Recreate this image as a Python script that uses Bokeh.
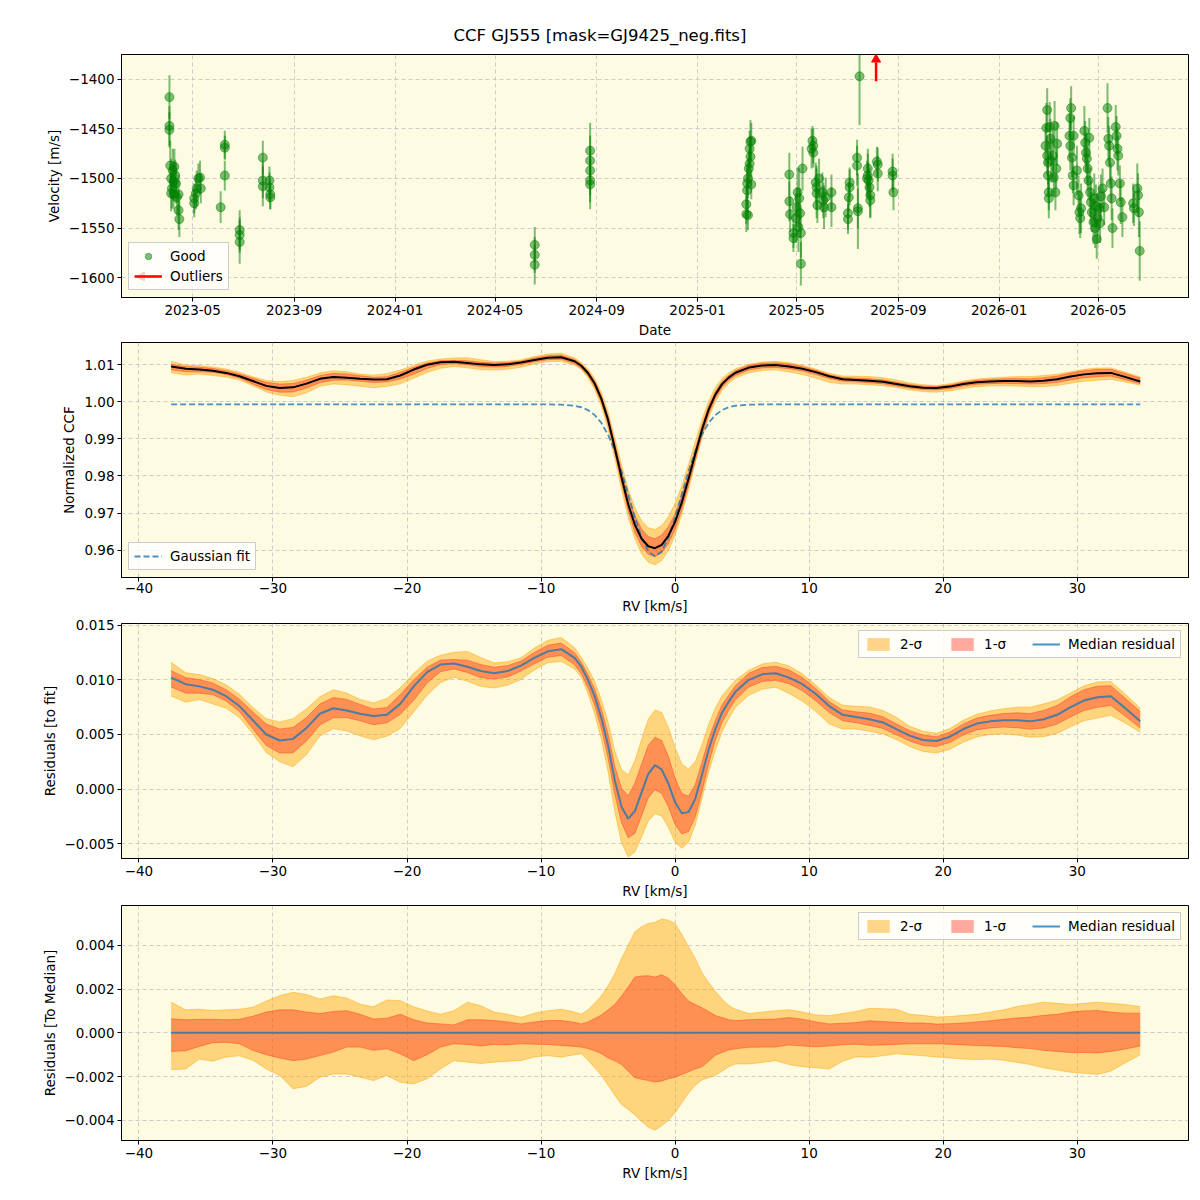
import numpy as np
import pandas as pd
from bokeh.plotting import figure
from bokeh.layouts import column
from bokeh.models import (Range1d, FixedTicker, DatetimeTickFormatter, CustomJSTickFormatter,
                          Legend, LegendItem, Arrow, NormalHead)
from bokeh.embed import file_html
from bokeh.resources import INLINE

TITLE = "CCF GJ555 [mask=GJ9425_neg.fits]"

# ---------------- Panel 1 data: RV time series ----------------
good_dates = [
    "2023-04-03", "2023-04-03", "2023-04-03", "2023-04-04", "2023-04-05", "2023-04-05", "2023-04-06",
    "2023-04-07", "2023-04-08", "2023-04-08", "2023-04-09", "2023-04-10", "2023-04-11", "2023-04-12",
    "2023-04-14", "2023-04-14", "2023-04-15",
    "2023-05-03", "2023-05-03", "2023-05-05", "2023-05-06", "2023-05-08", "2023-05-10", "2023-05-11",
    "2023-06-04", "2023-06-09", "2023-06-09", "2023-06-09",
    "2023-06-27", "2023-06-27", "2023-06-27",
    "2023-07-25", "2023-07-25", "2023-07-25", "2023-08-02", "2023-08-02", "2023-08-03", "2023-08-03",
    "2024-06-18", "2024-06-18", "2024-06-18",
    "2024-08-24", "2024-08-24", "2024-08-24", "2024-08-24", "2024-08-24",
    "2025-03-01", "2025-03-01", "2025-03-02", "2025-03-02", "2025-03-03", "2025-03-03", "2025-03-04",
    "2025-03-05", "2025-03-05", "2025-03-06", "2025-03-06", "2025-03-07", "2025-03-07",
    "2025-04-22", "2025-04-22", "2025-04-23", "2025-04-27", "2025-04-27", "2025-04-30", "2025-05-01",
    "2025-05-02", "2025-05-03", "2025-05-04", "2025-05-05", "2025-05-06", "2025-05-06", "2025-05-08",
    "2025-05-19", "2025-05-20", "2025-05-21", "2025-05-21", "2025-05-24", "2025-05-25", "2025-05-25",
    "2025-05-26", "2025-05-28", "2025-06-01", "2025-06-02", "2025-06-03", "2025-06-05", "2025-06-12",
    "2025-06-12",
    "2025-07-02", "2025-07-02", "2025-07-03", "2025-07-04", "2025-07-04", "2025-07-13", "2025-07-13",
    "2025-07-14", "2025-07-14", "2025-07-16",
    "2025-07-25", "2025-07-26", "2025-07-26", "2025-07-27", "2025-07-28", "2025-07-29", "2025-07-29",
    "2025-08-06", "2025-08-07", "2025-08-07",
    "2025-08-25", "2025-08-25", "2025-08-26",
    "2026-02-26", "2026-02-27", "2026-02-28", "2026-02-28", "2026-03-01", "2026-03-01", "2026-03-02",
    "2026-03-02", "2026-03-03", "2026-03-04", "2026-03-05", "2026-03-07", "2026-03-08", "2026-03-09",
    "2026-03-10", "2026-03-11", "2026-03-12",
    "2026-03-27", "2026-03-28", "2026-03-28", "2026-03-29", "2026-03-30", "2026-03-31", "2026-04-01",
    "2026-04-01", "2026-04-05", "2026-04-07", "2026-04-08", "2026-04-09", "2026-04-10",
    "2026-04-14", "2026-04-15", "2026-04-16", "2026-04-17", "2026-04-18", "2026-04-19", "2026-04-20",
    "2026-04-21", "2026-04-22", "2026-04-23", "2026-04-25", "2026-04-26", "2026-04-27", "2026-04-28",
    "2026-04-29", "2026-04-30", "2026-05-02", "2026-05-03", "2026-05-04", "2026-05-06", "2026-05-08",
    "2026-05-12", "2026-05-13", "2026-05-14", "2026-05-15", "2026-05-16", "2026-05-17", "2026-05-18",
    "2026-05-22", "2026-05-23", "2026-05-24", "2026-05-25", "2026-05-27", "2026-05-28", "2026-05-30",
    "2026-06-12", "2026-06-13", "2026-06-17", "2026-06-18", "2026-06-19", "2026-06-20",
]
good_vel = [
    -1418, -1447, -1451, -1487, -1500, -1515, -1510,
    -1492, -1503, -1516, -1488, -1497, -1505, -1519,
    -1516, -1532, -1541,
    -1520, -1525, -1515, -1510, -1500, -1499, -1510,
    -1529, -1466, -1469, -1497,
    -1552, -1557, -1564,
    -1479, -1502, -1508, -1502, -1509, -1516, -1519,
    -1567, -1577, -1587,
    -1472, -1482, -1492, -1502, -1506,
    -1536, -1526, -1512, -1505, -1500, -1537, -1490,
    -1485, -1470, -1463, -1478, -1462, -1506,
    -1496, -1523, -1536, -1555, -1560, -1540, -1529,
    -1514, -1549, -1520, -1535, -1586, -1555, -1490,
    -1470, -1462, -1467, -1474, -1504, -1509, -1515,
    -1527, -1500, -1514, -1522, -1529, -1519, -1514,
    -1529,
    -1541, -1535, -1519, -1509, -1504, -1479, -1487,
    -1533, -1530, -1397,
    -1500, -1490, -1497, -1502, -1509, -1517, -1522,
    -1483, -1486, -1495,
    -1493, -1497, -1514,
    -1467, -1449, -1431, -1477, -1484, -1497, -1514,
    -1520, -1448, -1460, -1482, -1477, -1499, -1447,
    -1514, -1490, -1465,
    -1457, -1439, -1467, -1429, -1479, -1497, -1507,
    -1457, -1492, -1517, -1534, -1540, -1530,
    -1452, -1464, -1474, -1480, -1490, -1502, -1459,
    -1514, -1524, -1534, -1544, -1520, -1550, -1528,
    -1561, -1540, -1530, -1545, -1518, -1510, -1529,
    -1429, -1460, -1467, -1484, -1505, -1520, -1550,
    -1448, -1457, -1470, -1477, -1505, -1524, -1539,
    -1525, -1530, -1510, -1517, -1534, -1573,
]
good_err = [
    22, 20, 18, 25, 20, 18, 20,
    22, 20, 15, 18, 16, 20, 18,
    20, 20, 18,
    15, 14, 16, 18, 15, 17, 15,
    16, 14, 12, 15,
    20, 18, 22,
    17, 18, 20, 14, 15, 15, 12,
    18, 18, 20,
    28, 25, 25, 22, 25,
    18, 20, 22, 18, 20, 15, 18,
    20, 18, 22, 20, 18, 15,
    22, 20, 18, 15, 14, 25, 20,
    25, 25, 30, 25, 22, 25, 22,
    20, 15, 18, 15, 20, 22, 25,
    18, 20, 20, 18, 22, 20, 18,
    20,
    15, 17, 15, 18, 15, 18, 20,
    38, 20, 49,
    18, 20, 22, 18, 20, 22, 18,
    15, 17, 18,
    18, 17, 18,
    20, 25, 22, 20, 22, 20, 18,
    20, 25, 20, 22, 25, 20, 25,
    18, 20, 22,
    22, 20, 25, 22, 20, 18, 20,
    20, 25, 20, 22, 20, 25,
    25, 22, 20, 25, 22, 20, 20,
    25, 22, 20, 22, 25, 20, 22,
    20, 25, 22, 20, 22, 20, 18,
    25, 22, 20, 22, 20, 22, 20,
    22, 20, 22, 20, 18, 22, 20,
    20, 18, 25, 22, 25, 30,
]
outlier_dates = ["2025-08-05"]
date_tick_labels = ["2023-05", "2023-09", "2024-01", "2024-05", "2024-09",
                    "2025-01", "2025-05", "2025-09", "2026-01", "2026-05"]
vel_ticks = [-1600, -1550, -1500, -1450, -1400]

# ---------------- CCF data (RV grid, km/s) ----------------
rv = [-37.6, -36.5, -35.5, -34.5, -33.5, -32.5, -31.5, -30.5, -29.5, -28.5,
      -27.5, -26.5, -25.5, -24.5, -23.5, -22.5, -21.5, -20.5, -19.5, -18.5,
      -17.5, -16.5, -15.5, -14.5, -13.5, -12.5, -11.5, -10.5, -9.5, -8.5,
      -7.5, -7.0, -6.5, -6.0, -5.5, -5.0, -4.5, -4.0, -3.5, -3.0,
      -2.5, -2.0, -1.5, -1.0, -0.5, 0.0, 0.5, 1.0, 1.5, 2.0,
      2.5, 3.0, 3.5, 4.0, 4.5, 5.5, 6.5, 7.5, 8.5, 9.5,
      10.5, 11.5, 12.5, 13.5, 14.5, 15.5, 16.5, 17.5, 18.5, 19.5,
      20.5, 21.5, 22.5, 23.5, 24.5, 25.5, 26.5, 27.5, 28.5, 29.5,
      30.5, 31.5, 32.5, 33.5, 34.7]
# median residual to the Gaussian fit (units of 1e-3)
resid_median = [10.2, 9.6, 9.4, 9.1, 8.5, 7.6, 6.3, 5.0, 4.45, 4.6,
                5.6, 6.9, 7.4, 7.2, 6.9, 6.7, 6.8, 7.8, 9.4, 10.7,
                11.4, 11.5, 11.2, 10.8, 10.6, 10.8, 11.3, 12.0, 12.6, 12.8,
                12.0, 11.2, 10.0, 8.5, 6.5, 4.0, 0.8, -1.6, -2.7, -2.0,
                -0.3, 1.4, 2.2, 1.8, 0.5, -1.2, -2.2, -2.1, -0.9, 1.3,
                3.6, 5.5, 7.0, 8.0, 8.9, 10.0, 10.5, 10.6, 10.2, 9.6,
                8.7, 7.6, 6.8, 6.6, 6.4, 6.1, 5.5, 4.9, 4.5, 4.4,
                4.8, 5.5, 6.0, 6.2, 6.3, 6.3, 6.2, 6.4, 6.8, 7.5,
                8.1, 8.4, 8.5, 7.5, 6.2]
# spread of the residuals around the median (units of 1e-3)
sig2_hi = [1.40, 1.05, 1.08, 1.02, 1.05, 1.08, 1.17, 1.45, 1.70, 1.85,
           1.75, 1.55, 1.69, 1.59, 1.31, 1.19, 1.50, 1.47, 1.19, 1.00,
           0.85, 1.01, 1.40, 1.24, 0.95, 0.85, 0.71, 0.90, 1.01, 1.08,
           0.95, 0.85, 1.05, 1.35, 1.70, 2.15, 2.70, 3.40, 4.00, 4.62,
           4.85, 5.00, 5.05, 5.20, 5.15, 5.00, 4.50, 3.95, 3.40, 2.75,
           2.30, 1.90, 1.55, 1.25, 1.08, 0.88, 0.95, 1.01, 1.06, 0.95,
           0.82, 0.79, 0.88, 0.98, 1.12, 1.10, 1.08, 0.85, 0.80, 0.72,
           0.75, 0.80, 0.85, 0.95, 1.05, 1.20, 1.30, 1.40, 1.35, 1.30,
           1.35, 1.40, 1.35, 1.30, 1.20]
sig1_hi = [0.64, 0.60, 0.62, 0.62, 0.60, 0.62, 0.76, 0.95, 1.05, 1.05,
           0.95, 0.88, 0.98, 1.01, 0.85, 0.63, 0.67, 0.85, 0.60, 0.45,
           0.41, 0.36, 0.60, 0.60, 0.56, 0.50, 0.41, 0.50, 0.56, 0.56,
           0.48, 0.41, 0.50, 0.65, 0.82, 1.05, 1.30, 1.68, 2.10, 2.55,
           2.60, 2.61, 2.55, 2.65, 2.50, 2.20, 1.80, 1.45, 1.30, 1.15,
           0.98, 0.79, 0.70, 0.60, 0.56, 0.60, 0.62, 0.63, 0.70, 0.62,
           0.50, 0.41, 0.44, 0.47, 0.55, 0.52, 0.48, 0.45, 0.45, 0.40,
           0.42, 0.45, 0.50, 0.55, 0.62, 0.68, 0.72, 0.80, 0.85, 0.95,
           1.00, 1.02, 0.95, 0.90, 0.90]
sig1_lo = [-0.85, -0.82, -0.62, -0.45, -0.43, -0.50, -0.80, -1.00, -1.15, -1.27,
           -1.20, -1.04, -0.88, -0.65, -0.65, -0.80, -0.73, -0.96, -1.27, -1.00,
           -0.65, -0.50, -0.53, -0.60, -0.53, -0.55, -0.50, -0.52, -0.53, -0.58,
           -0.62, -0.65, -0.72, -0.82, -0.95, -1.15, -1.28, -1.45, -1.75, -2.05,
           -2.12, -2.18, -2.25, -2.20, -2.10, -2.03, -1.90, -1.78, -1.65, -1.55,
           -1.30, -1.02, -0.90, -0.78, -0.73, -0.66, -0.65, -0.65, -0.55, -0.60,
           -0.64, -0.60, -0.54, -0.52, -0.57, -0.55, -0.53, -0.50, -0.50, -0.50,
           -0.52, -0.55, -0.58, -0.60, -0.62, -0.68, -0.72, -0.80, -0.85, -0.90,
           -0.90, -0.92, -0.85, -0.75, -0.60]
sig2_lo = [-1.68, -1.65, -1.20, -1.30, -1.10, -1.05, -1.25, -1.65, -1.95, -2.55,
           -2.45, -2.03, -1.88, -1.88, -2.03, -2.18, -1.95, -2.26, -2.34, -2.10,
           -1.65, -1.27, -1.34, -1.40, -1.34, -1.30, -1.27, -1.10, -1.04, -1.11,
           -1.00, -0.96, -1.25, -1.60, -1.95, -2.40, -2.85, -3.28, -3.50, -3.75,
           -4.05, -4.32, -4.45, -4.25, -4.00, -3.65, -3.20, -2.75, -2.40, -2.15,
           -2.05, -1.95, -1.75, -1.55, -1.42, -1.42, -1.35, -1.27, -1.45, -1.55,
           -1.60, -1.65, -1.30, -1.10, -1.11, -1.05, -0.96, -1.00, -1.05, -1.10,
           -1.15, -1.20, -1.22, -1.20, -1.25, -1.35, -1.45, -1.60, -1.70, -1.80,
           -1.85, -1.90, -1.75, -1.40, -1.00]
# Gaussian fit parameters
gauss_base = 0.9993
gauss_depth = 0.041
gauss_center = -1.5
gauss_sigma = 1.95

rv_ticks = [-40, -30, -20, -10, 0, 10, 20, 30]
ccf_ticks = [0.96, 0.97, 0.98, 0.99, 1.00, 1.01]
res_ticks = [-0.005, 0.0, 0.005, 0.010, 0.015]
med_ticks = [-0.004, -0.002, 0.0, 0.002, 0.004]

# ---------------- derived arrays ----------------
rv_a = np.array(rv)
gauss = gauss_base - gauss_depth * np.exp(-0.5 * ((rv_a - gauss_center) / gauss_sigma) ** 2)
res_a = np.array(resid_median) * 1e-3
s2h = np.array(sig2_hi) * 1e-3
s1h = np.array(sig1_hi) * 1e-3
s1l = np.array(sig1_lo) * 1e-3
s2l = np.array(sig2_lo) * 1e-3
ccf = gauss + res_a

FONT = "DejaVu Sans"
BG = "#fdfbe2"
GRIDC = "#b8b8c8"
FS = "13.5px"
FW = 1067
ORANGE = "#ffa500"
RED = "#ff2a1a"
BLUE = "#1f77b4"


def fmt(dec):
    return CustomJSTickFormatter(code=(
        "const s = Math.abs(tick).toFixed(%d);" % dec +
        "return (tick < -1e-12 ? '\u2212' : '') + s;"))


def make_fig(h, xr, yr, top, **kw):
    p = figure(frame_width=FW, frame_height=h, min_border_left=121, min_border_right=12,
               min_border_top=top, min_border_bottom=30, x_range=xr, y_range=yr,
               output_backend="svg", toolbar_location=None, **kw)
    p.background_fill_color = BG
    p.border_fill_color = "white"
    p.outline_line_color = "black"
    p.outline_line_alpha = 1.0
    p.outline_line_width = 1
    for ax in list(p.xaxis) + list(p.yaxis):
        ax.major_label_text_font = FONT
        ax.major_label_text_font_size = FS
        ax.major_label_text_color = "black"
        ax.axis_label_text_font = FONT
        ax.axis_label_text_font_size = FS
        ax.axis_label_text_font_style = "normal"
        ax.axis_label_text_color = "black"
        ax.major_tick_out = 4
        ax.major_tick_in = 0
        ax.minor_tick_out = 0
        ax.minor_tick_in = 0
        ax.major_tick_line_color = "black"
        ax.axis_line_color = "black"
        ax.major_label_standoff = 3
        ax.axis_label_standoff = 4
    for g in list(p.xgrid) + list(p.ygrid):
        g.grid_line_color = GRIDC
        g.grid_line_dash = "4 3"
        g.grid_line_alpha = 0.7
        g.grid_line_width = 1
    return p


def style_legend(leg):
    leg.label_text_font = FONT
    leg.label_text_font_size = FS
    leg.label_text_color = "black"
    leg.background_fill_color = "white"
    leg.background_fill_alpha = 0.8
    leg.border_line_color = "#cccccc"
    leg.border_line_alpha = 1.0
    leg.padding = 5
    leg.spacing = 4
    leg.margin = 7
    leg.glyph_width = 28
    leg.glyph_height = 16
    leg.label_height = 16
    leg.label_standoff = 8


# ---------------- Panel 1 ----------------
d_good = pd.to_datetime(pd.Series(good_dates))
v_good = np.array(good_vel, dtype=float)
e_good = np.array(good_err, dtype=float)
d_out = pd.to_datetime(pd.Series(outlier_dates))
tick_ms = [pd.Timestamp(s + "-01").value / 1e6 for s in date_tick_labels]

p1 = make_fig(243, Range1d(pd.Timestamp("2023-02-04"), pd.Timestamp("2026-08-18")),
              Range1d(-1620, -1375), 54, x_axis_type="datetime")
p1.title.text = TITLE
p1.title.text_font = FONT
p1.title.text_font_size = "16.5px"
p1.title.text_font_style = "normal"
p1.title.text_color = "black"
p1.title.align = "left"
p1.title.offset = 332
p1.title.standoff = 20
p1.xaxis.ticker = FixedTicker(ticks=tick_ms)
p1.xaxis.formatter = DatetimeTickFormatter(
    microseconds="%Y-%m", milliseconds="%Y-%m", seconds="%Y-%m", minsec="%Y-%m",
    minutes="%Y-%m", hourmin="%Y-%m", hours="%Y-%m", days="%Y-%m", months="%Y-%m", years="%Y-%m")
p1.yaxis.ticker = FixedTicker(ticks=vel_ticks)
p1.yaxis.formatter = fmt(0)
p1.xaxis.axis_label = "Date"
p1.yaxis.axis_label = "Velocity [m/s]"

p1.segment(x0=d_good, y0=v_good - e_good, x1=d_good, y1=v_good + e_good,
           line_color="green", line_alpha=0.5, line_width=2)
p1.scatter(x=d_good, y=v_good, size=9, fill_color="green", fill_alpha=0.5,
           line_color="green", line_alpha=0.5, line_width=1)
y_top = p1.y_range.end
p1.segment(x0=d_out, y0=[y_top - 27] * len(d_out), x1=d_out, y1=[y_top - 8] * len(d_out),
           line_color="red", line_width=2.5)
p1.scatter(x=d_out, y=[y_top - 5] * len(d_out), marker="triangle", size=9,
           fill_color="red", line_color="red")

lg_good = p1.scatter(x=[np.nan], y=[np.nan], size=6, fill_color="green", fill_alpha=0.5,
                     line_color="green", line_alpha=0.5)
lg_out_line = p1.line(x=[np.nan, np.nan], y=[np.nan, np.nan], line_color="red", line_width=2.5)
leg1 = Legend(items=[LegendItem(label="Good", renderers=[lg_good]),
                     LegendItem(label="Outliers", renderers=[lg_out_line])],
              location="bottom_left")
style_legend(leg1)
p1.add_layout(leg1)
# left-pointing arrow head drawn over the "Outliers" legend glyph (frame screen units)
p1.add_layout(Arrow(x_start=36, y_start=21, x_end=14, y_end=21,
                    start_units="screen", end_units="screen", level="overlay",
                    line_color="red", line_width=2.5,
                    end=NormalHead(size=9, fill_color="red", line_color="red")))


def bands(p, center):
    p.varea(x=rv_a, y1=center + s2l, y2=center + s2h, fill_color=ORANGE, fill_alpha=0.45)
    p.line(rv_a, center + s2h, line_color=ORANGE, line_alpha=0.45, line_width=1)
    p.line(rv_a, center + s2l, line_color=ORANGE, line_alpha=0.45, line_width=1)
    p.varea(x=rv_a, y1=center + s1l, y2=center + s1h, fill_color=RED, fill_alpha=0.4)
    p.line(rv_a, center + s1h, line_color=RED, line_alpha=0.4, line_width=1)
    p.line(rv_a, center + s1l, line_color=RED, line_alpha=0.4, line_width=1)


def rv_axes(p):
    p.xaxis.ticker = FixedTicker(ticks=rv_ticks)
    p.xaxis.formatter = fmt(0)
    p.xaxis.axis_label = "RV [km/s]"


X_RANGE = (-41.3, 38.3)

# ---------------- Panel 2 ----------------
p2 = make_fig(235, Range1d(*X_RANGE), Range1d(0.9526, 1.0160), 2, title=None)
rv_axes(p2)
p2.xaxis.major_label_standoff = 1
p2.xaxis.axis_label_standoff = 2
p2.yaxis.ticker = FixedTicker(ticks=ccf_ticks)
p2.yaxis.formatter = fmt(2)
p2.yaxis.axis_label = "Normalized CCF"
bands(p2, ccf)
g_r = p2.line(rv_a, gauss, line_color=BLUE, line_alpha=0.8, line_width=1.8, line_dash="6 3")
p2.line(rv_a, ccf, line_color="black", line_width=2)
leg2 = Legend(items=[LegendItem(label="Gaussian fit", renderers=[g_r])], location="bottom_left")
style_legend(leg2)
p2.add_layout(leg2)


def legend_sigma(p, r_line):
    d2 = p.varea(x=[np.nan, np.nan], y1=[np.nan, np.nan], y2=[np.nan, np.nan],
                 fill_color=ORANGE, fill_alpha=0.45)
    d1 = p.varea(x=[np.nan, np.nan], y1=[np.nan, np.nan], y2=[np.nan, np.nan],
                 fill_color=RED, fill_alpha=0.4)
    leg = Legend(items=[LegendItem(label="2-\u03c3", renderers=[d2]),
                        LegendItem(label="1-\u03c3", renderers=[d1]),
                        LegendItem(label="Median residual", renderers=[r_line])],
                 location="top_right", orientation="horizontal")
    style_legend(leg)
    leg.spacing = 26
    p.add_layout(leg)


# ---------------- Panel 3 ----------------
p3 = make_fig(235, Range1d(*X_RANGE), Range1d(-0.00634, 0.01515), 7, title=None)
rv_axes(p3)
p3.yaxis.ticker = FixedTicker(ticks=res_ticks)
p3.yaxis.formatter = fmt(3)
p3.yaxis.axis_label = "Residuals [to fit]"
bands(p3, res_a)
m3 = p3.line(rv_a, res_a, line_color=BLUE, line_alpha=0.8, line_width=2)
legend_sigma(p3, m3)

# ---------------- Panel 4 ----------------
zero = np.zeros_like(rv_a)
p4 = make_fig(235, Range1d(*X_RANGE), Range1d(-0.00492, 0.00582), 4, title=None)
rv_axes(p4)
p4.yaxis.ticker = FixedTicker(ticks=med_ticks)
p4.yaxis.formatter = fmt(3)
p4.yaxis.axis_label = "Residuals [To Median]"
bands(p4, zero)
m4 = p4.line(rv_a, zero, line_color=BLUE, line_alpha=0.8, line_width=2)
legend_sigma(p4, m4)

layout = column(p1, p2, p3, p4)
open("out.html", "w").write(file_html(layout, INLINE))
